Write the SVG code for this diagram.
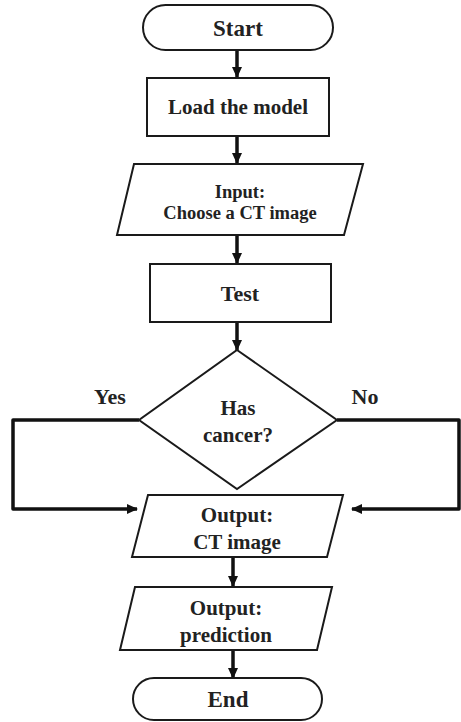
<svg xmlns="http://www.w3.org/2000/svg" width="461" height="722" viewBox="0 0 461 722">
<style>
.s{fill:#fff;stroke:#1a1a1a;stroke-width:2}
.t{font-family:"Liberation Serif","Times New Roman",serif;font-weight:bold;fill:#222;text-anchor:middle}
.c{fill:none;stroke:#111;stroke-width:3.5}
</style>
<defs>
<marker id="ah" viewBox="0 0 11 10" refX="10" refY="5" markerWidth="11" markerHeight="10" orient="auto" markerUnits="userSpaceOnUse">
<path d="M0,0 L11,5 L0,10 z" fill="#111"/>
</marker>
</defs>
<rect width="461" height="722" fill="#fff"/>
<g id="connectors">
<line class="c" x1="237" y1="50" x2="237" y2="77" marker-end="url(#ah)"/>
<line class="c" x1="237" y1="136" x2="237" y2="163" marker-end="url(#ah)"/>
<line class="c" x1="237" y1="235" x2="237" y2="263" marker-end="url(#ah)"/>
<line class="c" x1="237" y1="322" x2="237" y2="350" marker-end="url(#ah)"/>
<polyline class="c" points="139,420 13,420 13,509 137,509" stroke-linejoin="round" marker-end="url(#ah)"/>
<polyline class="c" points="337,420 459,420 459,509 352,509" stroke-linejoin="round" marker-end="url(#ah)"/>
<line class="c" x1="233" y1="557" x2="233" y2="586" marker-end="url(#ah)"/>
<line class="c" x1="233" y1="650" x2="233" y2="678" marker-end="url(#ah)"/>
</g>
<g id="start">
<rect class="s" x="143" y="5" width="190" height="45" rx="22.5"/>
<text class="t" x="238" y="36" font-size="23">Start</text>
</g>
<g id="load">
<rect class="s" x="147" y="78" width="182" height="58"/>
<text class="t" x="238" y="114" font-size="21">Load the model</text>
</g>
<g id="input">
<polygon class="s" points="134,164 363,164 344,235 117,235"/>
<text class="t" x="240" y="198" font-size="18.5">Input:</text>
<text class="t" x="240" y="219" font-size="18.5">Choose a CT image</text>
</g>
<g id="test">
<rect class="s" x="150" y="264" width="181" height="58"/>
<text class="t" x="240" y="301" font-size="22">Test</text>
</g>
<g id="decision">
<polygon class="s" points="237,350 337,420 237,489 139,420"/>
<text class="t" x="238" y="415" font-size="21">Has</text>
<text class="t" x="238" y="442" font-size="21">cancer?</text>
</g>
<text class="t" x="110" y="404" font-size="22">Yes</text>
<text class="t" x="365" y="404" font-size="22">No</text>
<g id="output-ct">
<polygon class="s" points="148,495 343,495 327,557 132,557"/>
<text class="t" x="237" y="522" font-size="21">Output:</text>
<text class="t" x="237" y="549" font-size="21">CT image</text>
</g>
<g id="output-pred">
<polygon class="s" points="135,587 332,587 317,650 120,650"/>
<text class="t" x="226" y="615" font-size="21">Output:</text>
<text class="t" x="226" y="642" font-size="21">prediction</text>
</g>
<g id="end">
<rect class="s" x="133" y="678" width="189" height="42" rx="21"/>
<text class="t" x="228" y="707" font-size="23">End</text>
</g>
</svg>
